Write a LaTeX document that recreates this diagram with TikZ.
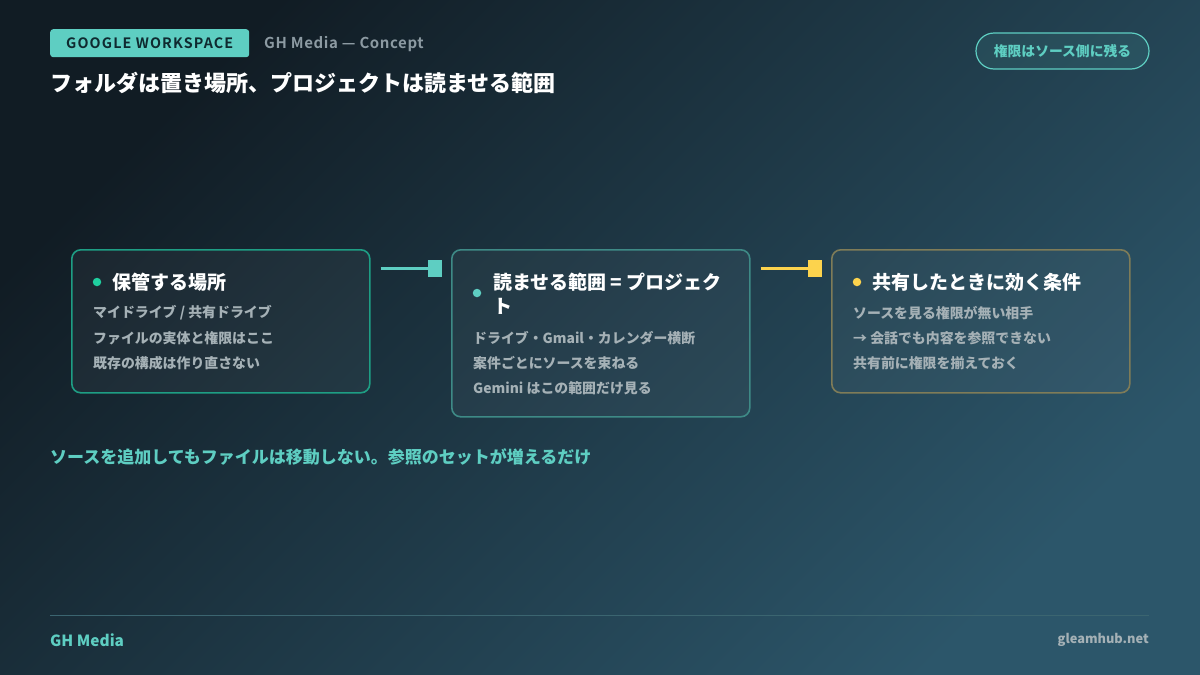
\documentclass[tikz,border=0pt]{standalone}
\usepackage{fontspec}
\setmainfont{Noto Sans CJK JP}
\newfontfamily\tagfont[LetterSpace=8]{Noto Sans CJK JP Bold}
\newfontfamily\brandfont[LetterSpace=4]{Noto Sans CJK JP Bold}
\usetikzlibrary{arrows.meta,calc}

\definecolor{bgdark}{HTML}{111C24}
\definecolor{bglight}{HTML}{2C566A}
\definecolor{accent}{HTML}{5ECEC2}
\definecolor{mint}{HTML}{1FCF9F}
\definecolor{sun}{HTML}{FCD34D}
\definecolor{muted}{HTML}{8C9AA2}
\definecolor{bodygray}{HTML}{A5B1B6}
\definecolor{edgemint}{HTML}{1E9E84}
\definecolor{edgeteal}{HTML}{3E8A86}
\definecolor{edgeolive}{HTML}{7F7C58}
\definecolor{rulecol}{HTML}{3B6570}
\definecolor{tagtext}{HTML}{0F2A30}

\begin{document}
\begin{tikzpicture}[x=1pt, y=-1pt,
    tag/.style={fill=accent, rounded corners=3pt, text=tagtext, inner sep=0,
        minimum width=199pt, minimum height=28pt, anchor=north west,
        font=\tagfont\fontsize{14.3}{16}\selectfont},
    pill/.style={draw=accent, line width=1.2pt, fill=accent, fill opacity=0.1,
        text opacity=1, rounded corners=18pt, minimum width=173pt,
        minimum height=36pt, text=accent, inner sep=0,
        font=\bfseries\fontsize{13.8}{16}\selectfont},
    card/.style={draw=#1, line width=1.6pt, rounded corners=9pt, fill=white,
        fill opacity=0.04, minimum width=298pt, anchor=north west, inner sep=0},
    dot/.style={circle, fill=#1, minimum size=8.5pt, inner sep=0},
    cardtitle/.style={anchor=west, inner sep=0, text=white, align=left,
        font=\bfseries\fontsize{19}{24}\selectfont},
    bodytxt/.style={anchor=west, inner sep=0, text=bodygray,
        font=\bfseries\fontsize{13.9}{16}\selectfont},
    link/.style={draw=#1, line width=3pt, -{Square[length=14pt,width=17pt]}},
  ]
  \useasboundingbox (0,0) rectangle (1200,675);
  % background
  \shade[top color=bgdark, bottom color=bglight, shading angle=45] (0,0) rectangle (1200,675);

  % header
  \node[tag] (tag) at (50,29) {GOOGLE WORKSPACE};
  \node[anchor=west, inner sep=0, text=muted, font=\brandfont\fontsize{15}{16}\selectfont]
    (brand) at (264,44) {GH Media — Concept};
  \node[anchor=west, inner sep=0, text=white, font=\bfseries\fontsize{22}{24}\selectfont]
    (headline) at (50,83) {フォルダは置き場所、プロジェクトは読ませる範囲};
  \node[pill] (badge) at (1062.5,51) {権限はソース側に残る};

  % cards
  \node[card=edgemint, minimum height=143pt] (keep) at (71,249) {};
  \node[card=edgeteal, minimum height=167pt] (scope) at (451,249) {};
  \node[card=edgeolive, minimum height=143pt] (share) at (831,249) {};

  % card 1
  \node[dot=mint] (keep-dot) at ($(keep.north west)+(26,33)$) {};
  \node[cardtitle] (keep-title) at ($(keep.north west)+(41,33)$) {保管する場所};
  \foreach \t [count=\i] in {マイドライブ / 共有ドライブ, ファイルの実体と権限はここ, 既存の構成は作り直さない}
    \node[bodytxt] (keep-l\i) at ($(keep.north west)+(22,39+25*\i)$) {\t};

  % card 2
  \node[dot=accent] (scope-dot) at ($(scope.north west)+(26,44)$) {};
  \node[cardtitle] (scope-title) at ($(scope.north west)+(42,45)$) {読ませる範囲 = プロジェク\\ト};
  \foreach \t [count=\i] in {ドライブ・Gmail・カレンダー横断, 案件ごとにソースを束ねる, Gemini はこの範囲だけ見る}
    \node[bodytxt] (scope-l\i) at ($(scope.north west)+(22,64+25*\i)$) {\t};

  % card 3
  \node[dot=sun] (share-dot) at ($(share.north west)+(26,33)$) {};
  \node[cardtitle] (share-title) at ($(share.north west)+(41,33)$) {共有したときに効く条件};
  \foreach \t [count=\i] in {ソースを見る権限が無い相手, → 会話でも内容を参照できない, 共有前に権限を揃えておく}
    \node[bodytxt] (share-l\i) at ($(share.north west)+(22,39+25*\i)$) {\t};

  % connectors
  \coordinate (keep-out) at ($(keep.north east)+(10,19)$);
  \coordinate (scope-in) at ($(scope.north west)+(-9,19)$);
  \coordinate (scope-out) at ($(scope.north east)+(10,19)$);
  \coordinate (share-in) at ($(share.north west)+(-9,19)$);
  \draw[link=accent] (keep-out) -- (scope-in);
  \draw[link=sun] (scope-out) -- (share-in);

  % note
  \node[anchor=west, inner sep=0, text=accent, font=\bfseries\fontsize{17}{20}\selectfont]
    (note) at (50,457) {ソースを追加してもファイルは移動しない。参照のセットが増えるだけ};

  % footer
  \coordinate (rule-l) at (50,615);
  \coordinate (rule-r) at (1149,615);
  \draw[rulecol, line width=1pt] (rule-l) -- (rule-r);
  \node[anchor=west, inner sep=0, text=accent, font=\bfseries\fontsize{15.4}{18}\selectfont]
    (footer-brand) at (50,640) {GH Media};
  \node[anchor=east, inner sep=0, text=bodygray, font=\bfseries\fontsize{12.8}{16}\selectfont]
    (footer-site) at (1149,640) {gleamhub.net};
\end{tikzpicture}
\end{document}
